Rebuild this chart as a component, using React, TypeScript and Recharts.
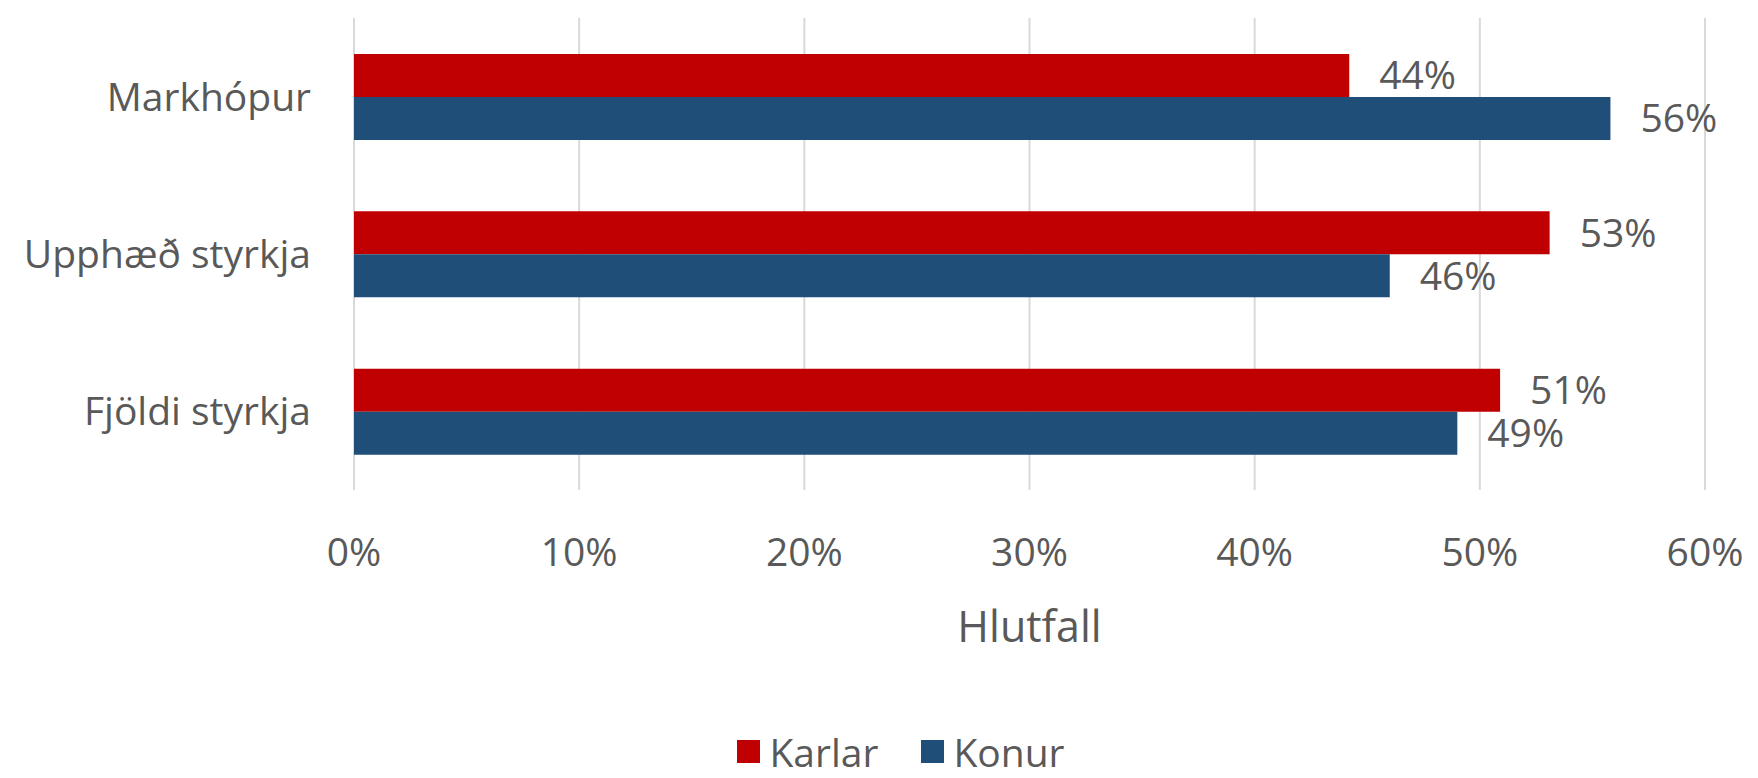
import React from "react";
import {
  BarChart,
  Bar,
  XAxis,
  YAxis,
  CartesianGrid,
  Legend,
  LabelList,
} from "recharts";

const categories = ["Markhópur", "Upphæð styrkja", "Fjöldi styrkja"];
const karlar = [44.2, 53.1, 50.9];
const konur = [55.8, 46.0, 49.0];
const xTicks = [0, 10, 20, 30, 40, 50, 60];

const data = categories.map((name, i) => ({
  name,
  Karlar: karlar[i],
  Konur: konur[i],
}));

const FONT = "'Open Sans', sans-serif";
const TEXT = "#595959";

const pct = (v: number) => `${Math.round(v)}%`;

// legend drawn as plain squares + grey text, like the Excel original
function LegendContent(props: any) {
  const items = props.payload || [];
  return (
    <div
      style={{
        display: "flex",
        justifyContent: "center",
        alignItems: "center",
        height: 39,
        gap: 43,
        paddingLeft: 44,
        fontFamily: FONT,
        fontSize: 39,
        lineHeight: 1,
        color: TEXT,
      }}
    >
      {items.map((e: any) => (
        <div key={e.value} style={{ display: "flex", alignItems: "center" }}>
          <span
            style={{
              display: "inline-block",
              width: 23,
              height: 23,
              background: e.color,
              marginRight: 9,
            }}
          />
          {e.value}
        </div>
      ))}
    </div>
  );
}

export default function App() {
  return (
    <div style={{ width: 1758, height: 778, fontFamily: FONT }}>
      <style>{"body{margin:0}"}</style>
      <BarChart
        width={1758}
        height={778}
        data={data}
        layout="vertical"
        margin={{ top: 18, right: 53, bottom: 7, left: 0 }}
        barGap={0}
      >
        <CartesianGrid horizontal={false} stroke="#D9D9D9" strokeWidth={2} />
        <XAxis
          type="number"
          domain={[0, 60]}
          ticks={xTicks}
          tickFormatter={(v) => `${v}%`}
          axisLine={false}
          tickLine={false}
          tickSize={0}
          tickMargin={48}
          height={242}
          tick={{ fill: TEXT, fontSize: 39 }}
          label={{
            value: "Hlutfall",
            position: "insideBottom",
            offset: 90,
            fill: TEXT,
            fontSize: 43,
          }}
        />
        <YAxis
          type="category"
          dataKey="name"
          width={354}
          axisLine={false}
          tickLine={false}
          tickSize={0}
          tickMargin={43}
          tick={{ fill: TEXT, fontSize: 39 }}
        />
        <Legend
          verticalAlign="bottom"
          content={<LegendContent />}
          wrapperStyle={{ left: 0, width: 1758 }}
        />
        <Bar dataKey="Karlar" fill="#C00000" barSize={43} isAnimationActive={false}>
          <LabelList
            dataKey="Karlar"
            position="right"
            offset={30}
            formatter={pct}
            fill={TEXT}
            fontSize={39}
          />
        </Bar>
        <Bar dataKey="Konur" fill="#1F4E79" barSize={43} isAnimationActive={false}>
          <LabelList
            dataKey="Konur"
            position="right"
            offset={30}
            formatter={pct}
            fill={TEXT}
            fontSize={39}
          />
        </Bar>
      </BarChart>
    </div>
  );
}
